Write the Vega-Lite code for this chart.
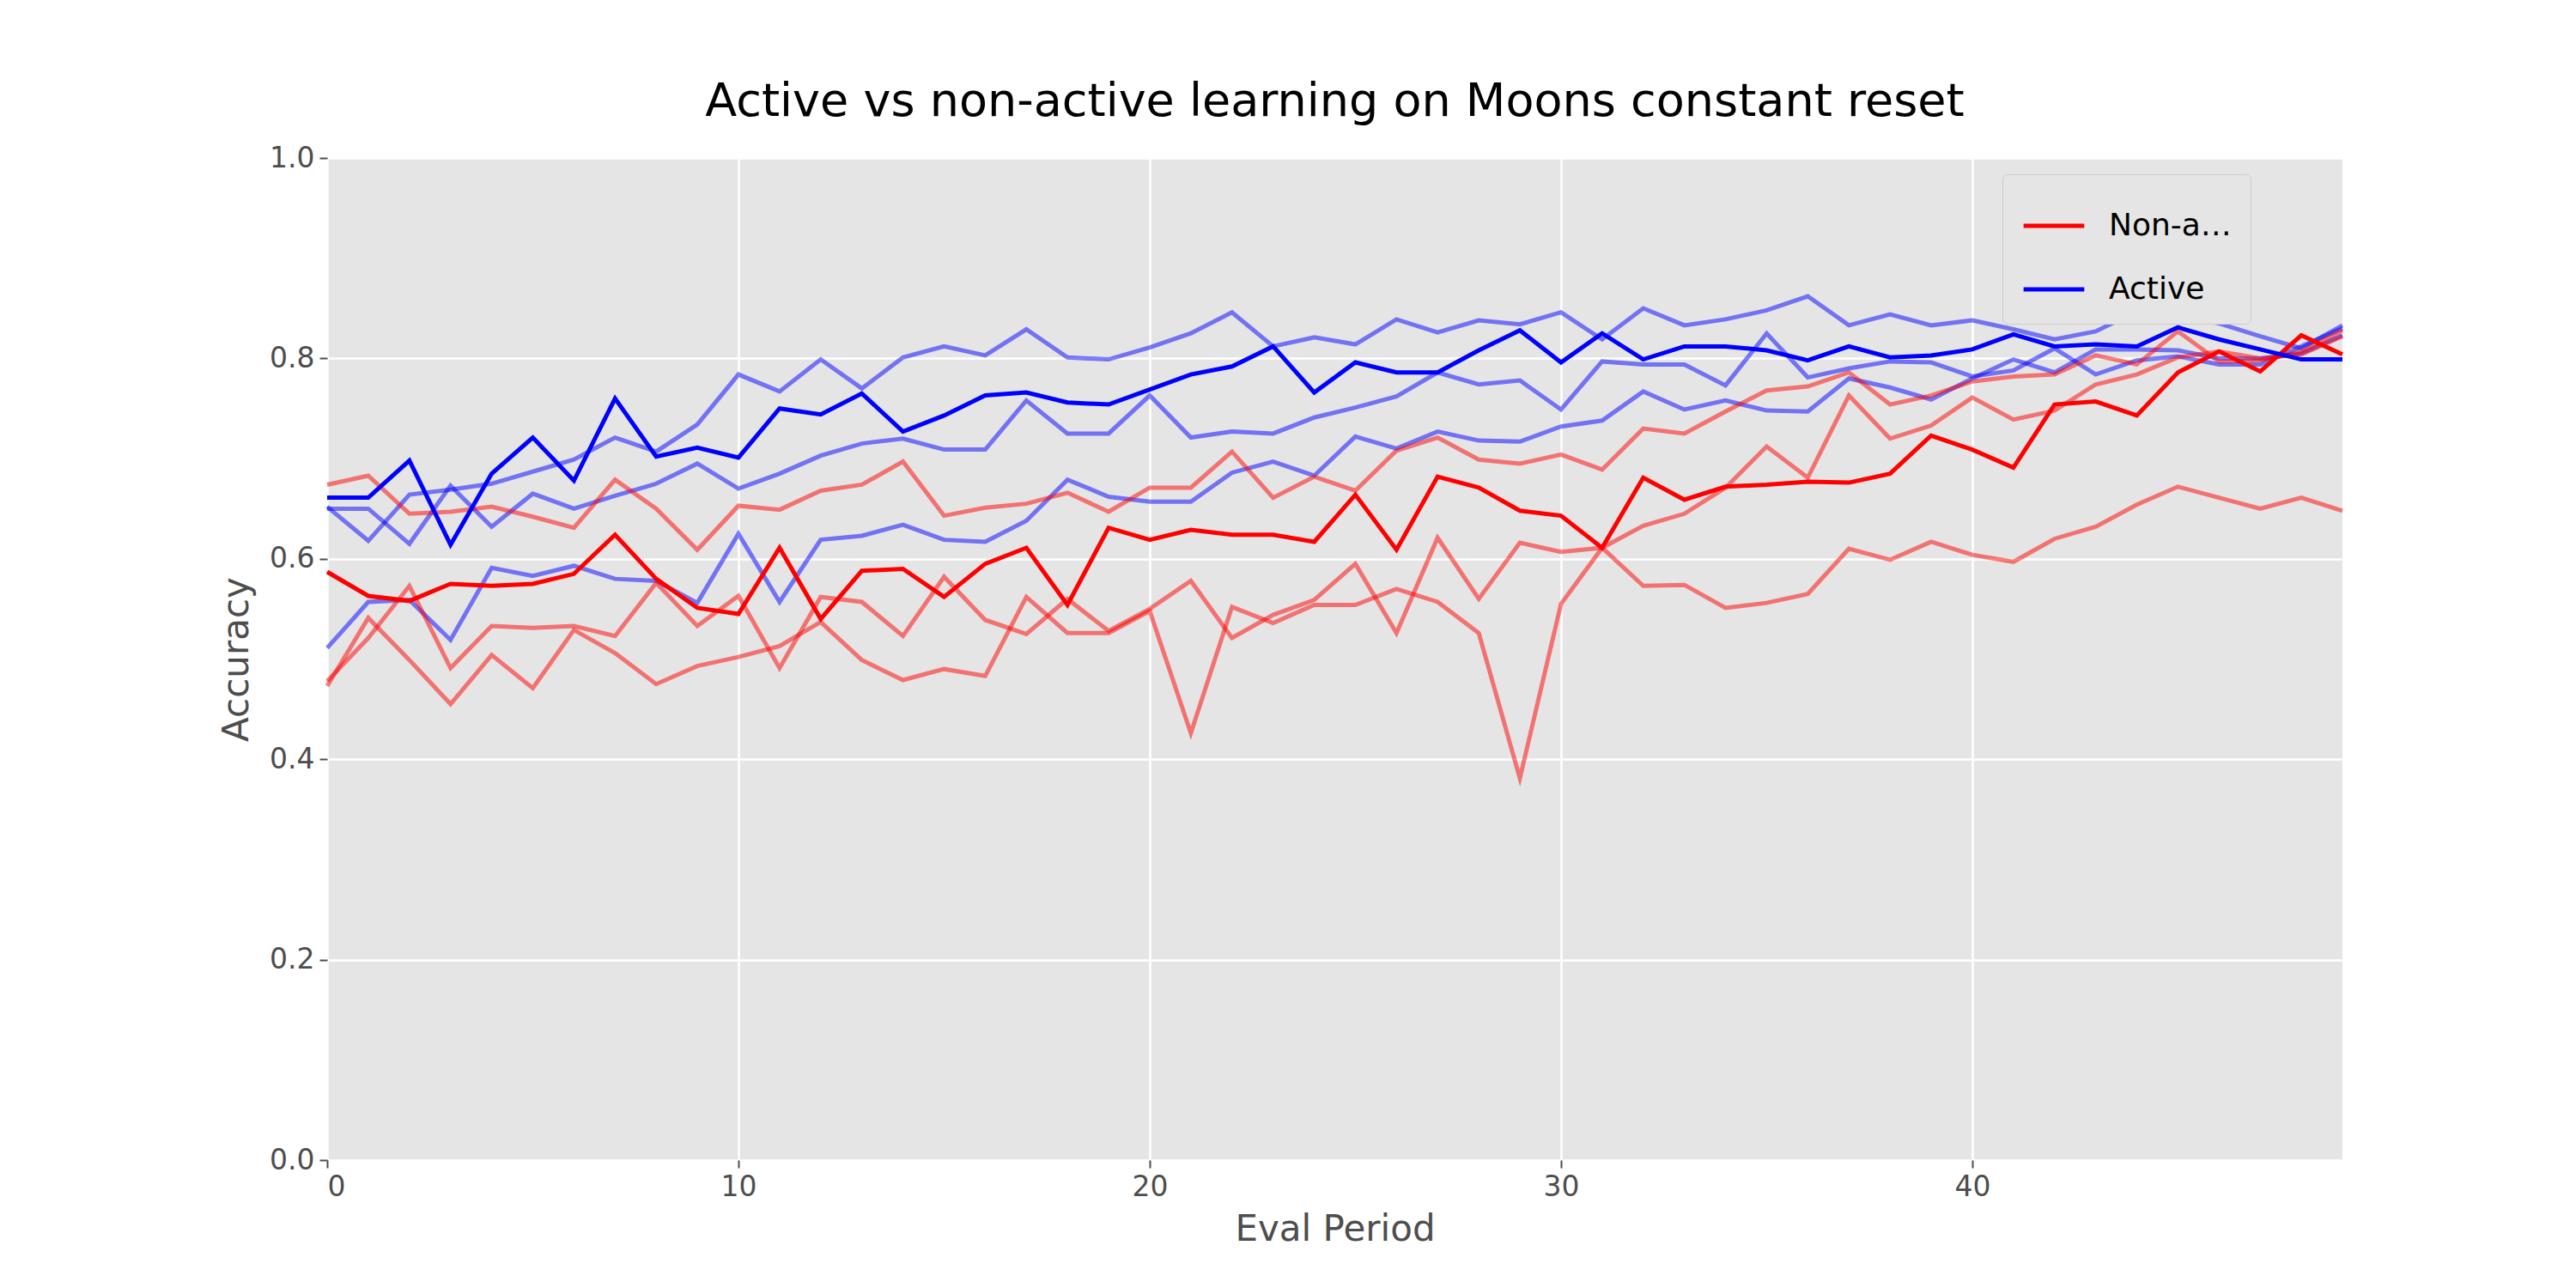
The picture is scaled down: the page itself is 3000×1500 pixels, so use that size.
{
  "$schema": "https://vega.github.io/schema/vega-lite/v6.json",
  "width": 2347,
  "height": 1167,
  "autosize": "none",
  "padding": {"left": 381, "top": 184, "right": 272, "bottom": 149},
  "background": "white",
  "config": {
    "view": {"fill": "#e5e5e5", "stroke": null},
    "font": "DejaVu Sans",
    "axis": {"labelFontSize": 33, "labelColor": "#4d4d4d", "titleFontSize": 42, "titleColor": "#4d4d4d", "titleFontWeight": "normal", "gridColor": "white", "gridWidth": 2.5, "domain": false, "tickColor": "#4d4d4d", "tickWidth": 2, "tickSize": 9, "labelPadding": 6}
  },
  "title": {"text": "Active vs non-active learning on Moons constant reset", "fontSize": 54, "fontWeight": "normal", "color": "black", "anchor": "middle", "offset": 22},
  "datasets": {
    "runs": [
      {"s":"RM","v":[0.587,0.563,0.558,0.575,0.573,0.575,0.585,0.624,0.580,0.551,0.545,0.611,0.540,0.588,0.590,0.562,0.595,0.611,0.554,0.631,0.619,0.629,0.624,0.624,0.617,0.664,0.609,0.682,0.671,0.648,0.643,0.611,0.681,0.659,0.672,0.674,0.677,0.676,0.685,0.723,0.709,0.691,0.754,0.757,0.743,0.786,0.807,0.787,0.823,0.804]},
      {"s":"BM","v":[0.661,0.661,0.698,0.614,0.685,0.721,0.678,0.760,0.702,0.711,0.701,0.750,0.744,0.765,0.727,0.743,0.763,0.766,0.756,0.754,0.769,0.784,0.792,0.812,0.766,0.796,0.786,0.786,0.808,0.828,0.796,0.825,0.799,0.812,0.812,0.808,0.798,0.812,0.801,0.803,0.809,0.824,0.812,0.814,0.812,0.831,0.819,0.809,0.799,0.799]},
      {"s":"B1","v":[0.652,0.618,0.664,0.669,0.675,0.687,0.699,0.721,0.707,0.734,0.784,0.767,0.799,0.770,0.801,0.812,0.803,0.829,0.801,0.799,0.811,0.825,0.846,0.812,0.821,0.814,0.839,0.826,0.838,0.834,0.846,0.819,0.850,0.833,0.839,0.848,0.862,0.833,0.844,0.833,0.838,0.829,0.819,0.827,0.847,0.843,0.835,0.822,0.810,0.833]},
      {"s":"B2","v":[0.650,0.650,0.615,0.673,0.632,0.665,0.650,0.663,0.675,0.695,0.670,0.685,0.703,0.715,0.720,0.709,0.709,0.758,0.725,0.725,0.763,0.721,0.727,0.725,0.741,0.751,0.762,0.786,0.774,0.778,0.749,0.797,0.794,0.794,0.773,0.825,0.781,0.790,0.797,0.796,0.782,0.788,0.810,0.784,0.798,0.802,0.794,0.794,0.812,0.830]},
      {"s":"B3","v":[0.511,0.557,0.559,0.519,0.591,0.583,0.593,0.580,0.578,0.556,0.625,0.557,0.619,0.623,0.634,0.619,0.617,0.638,0.679,0.662,0.657,0.657,0.686,0.697,0.683,0.722,0.710,0.727,0.718,0.717,0.732,0.738,0.767,0.749,0.758,0.748,0.747,0.780,0.771,0.759,0.780,0.799,0.786,0.809,0.809,0.808,0.800,0.800,0.805,0.823]},
      {"s":"R1","v":[0.674,0.683,0.645,0.647,0.652,0.642,0.631,0.679,0.650,0.609,0.653,0.649,0.668,0.674,0.697,0.643,0.651,0.655,0.666,0.647,0.671,0.671,0.707,0.661,0.682,0.668,0.708,0.721,0.699,0.695,0.704,0.689,0.730,0.725,0.747,0.768,0.772,0.786,0.754,0.763,0.777,0.782,0.784,0.803,0.794,0.827,0.797,0.798,0.807,0.828]},
      {"s":"R2","v":[0.473,0.541,0.499,0.455,0.504,0.471,0.529,0.506,0.475,0.493,0.502,0.513,0.537,0.499,0.479,0.490,0.483,0.562,0.526,0.526,0.548,0.426,0.552,0.536,0.554,0.554,0.570,0.557,0.526,0.381,0.555,0.611,0.633,0.645,0.671,0.712,0.681,0.763,0.720,0.733,0.761,0.739,0.748,0.774,0.784,0.801,0.807,0.800,0.804,0.822]},
      {"s":"R3","v":[0.478,0.521,0.573,0.491,0.533,0.531,0.533,0.523,0.576,0.533,0.563,0.491,0.562,0.557,0.523,0.582,0.539,0.525,0.560,0.528,0.550,0.578,0.521,0.544,0.559,0.595,0.526,0.621,0.560,0.616,0.607,0.611,0.573,0.574,0.551,0.556,0.565,0.610,0.599,0.617,0.604,0.597,0.620,0.632,0.654,0.672,0.661,0.650,0.661,0.648]}
    ],
    "periods": [
      {"x":[0,1,2,3,4,5,6,7,8,9,10,11,12,13,14,15,16,17,18,19,20,21,22,23,24,25,26,27,28,29,30,31,32,33,34,35,36,37,38,39,40,41,42,43,44,45,46,47,48,49]}
    ]
  },
  "data": {"name": "runs"},
  "transform": [
    {"lookup": "s", "from": {"data": {"name": "periods"}, "key": "none", "fields": ["x"]}, "default": [0,1,2,3,4,5,6,7,8,9,10,11,12,13,14,15,16,17,18,19,20,21,22,23,24,25,26,27,28,29,30,31,32,33,34,35,36,37,38,39,40,41,42,43,44,45,46,47,48,49]},
    {"flatten": ["v", "x"]}
  ],
  "encoding": {
    "x": {"field": "x", "type": "quantitative", "title": "Eval Period", "scale": {"domain": [0, 49], "nice": false, "zero": false}, "axis": {"values": [0, 10, 20, 30, 40], "titlePadding": 12}},
    "y": {"field": "v", "type": "quantitative", "title": "Accuracy", "scale": {"domain": [0, 1], "nice": false}, "axis": {"values": [0, 0.2, 0.4, 0.6, 0.8, 1.0], "format": ".1f", "titlePadding": 16}}
  },
  "layer": [
    {
      "transform": [{"filter": {"field": "s", "oneOf": ["R1", "R2", "R3", "B1", "B2", "B3"]}}],
      "mark": {"type": "line", "strokeWidth": 5, "opacity": 0.5},
      "encoding": {
        "detail": {"field": "s"},
        "color": {"field": "s", "type": "nominal", "scale": {"domain": ["R1", "R2", "R3", "B1", "B2", "B3"], "range": ["#ff0000", "#ff0000", "#ff0000", "#0000ff", "#0000ff", "#0000ff"]}, "legend": null}
      }
    },
    {
      "transform": [{"filter": {"field": "s", "oneOf": ["RM", "BM"]}}],
      "mark": {"type": "line", "strokeWidth": 5},
      "encoding": {
        "color": {"field": "s", "type": "nominal", "scale": {"domain": ["RM", "BM"], "range": ["#ff0000", "#0000ff"]},
          "legend": {"title": null, "orient": "none", "legendX": 1951, "legendY": 19, "labelExpr": "datum.label == 'RM' ? 'Non-active' : 'Active'", "labelFontSize": 36, "labelColor": "black", "symbolType": "stroke", "symbolStrokeWidth": 5, "symbolSize": 5000, "symbolOpacity": 1, "rowPadding": 18, "labelOffset": 26, "padding": 22, "fillColor": "#e5e5e5", "strokeColor": "#cccccc", "cornerRadius": 6}}
      }
    }
  ],
  "resolve": {"scale": {"color": "independent"}}
}
